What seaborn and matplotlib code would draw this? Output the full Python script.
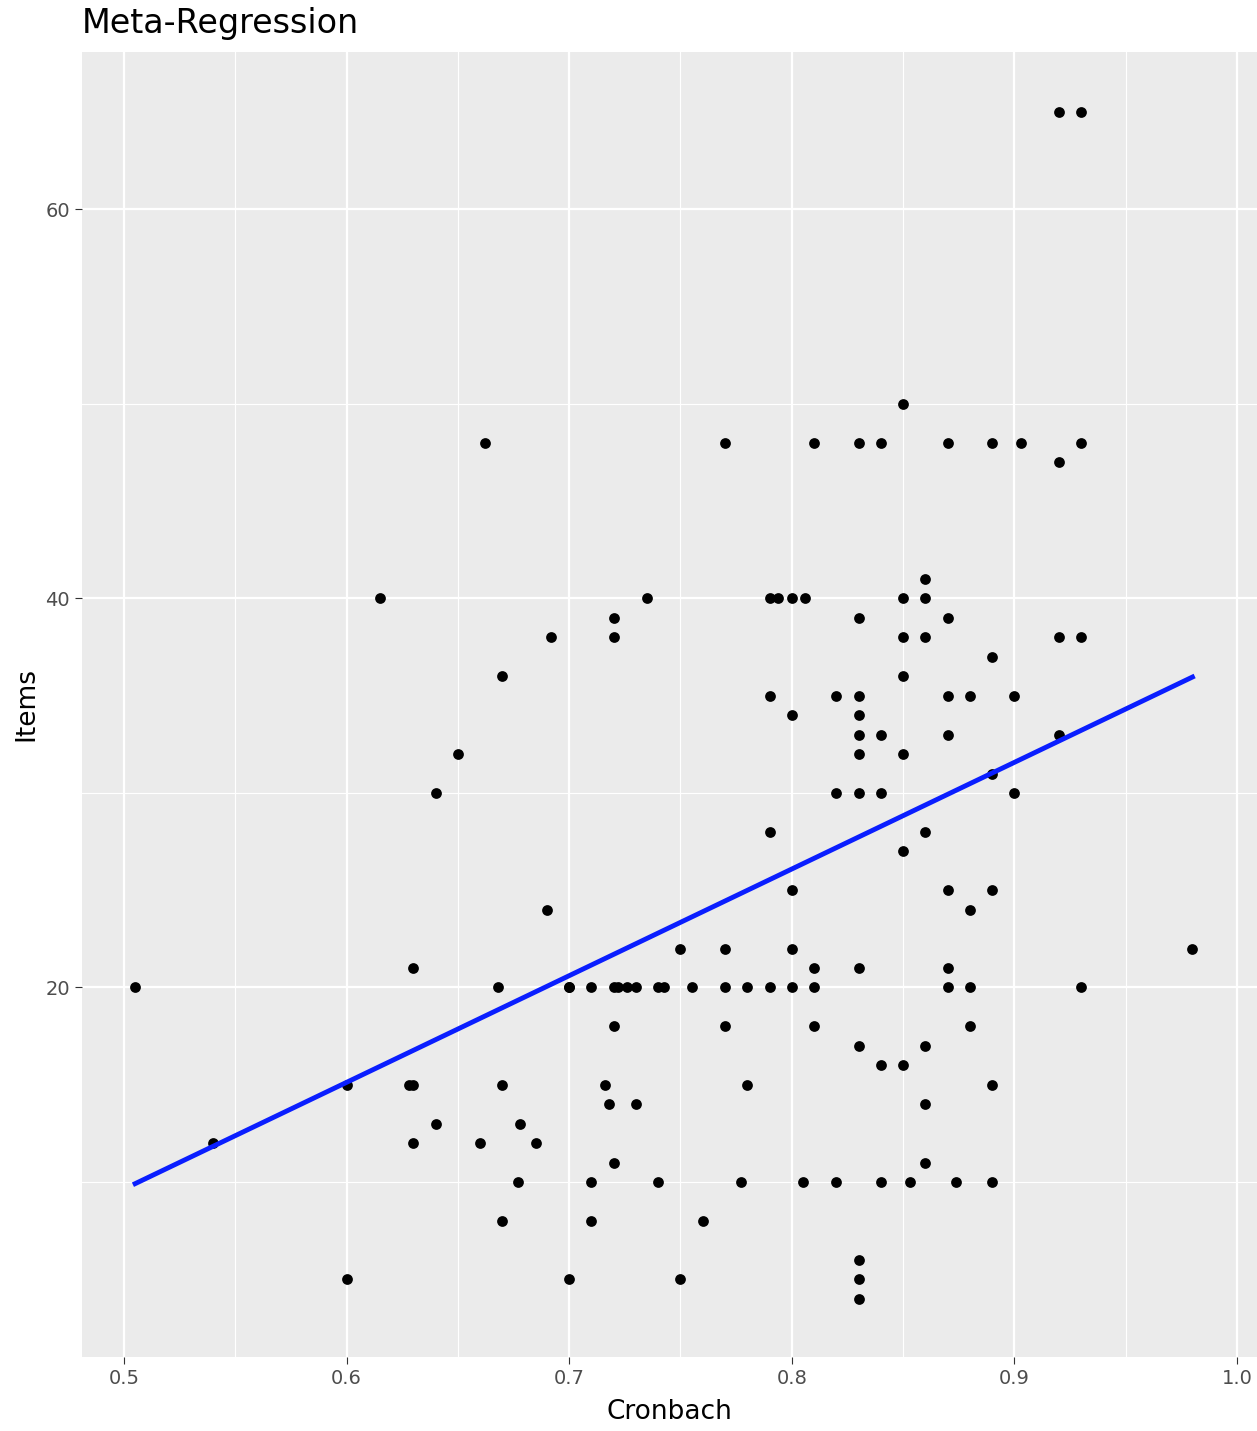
import numpy as np
import pandas as pd
import matplotlib
matplotlib.use("Agg")
import matplotlib.pyplot as plt
import seaborn as sns
from matplotlib.ticker import MultipleLocator

# Values
cronbach = [
    0.505, 0.54, 0.60, 0.60, 0.615, 0.628, 0.63, 0.63, 0.63, 0.64, 0.64, 0.65,
    0.66, 0.662, 0.668, 0.67, 0.67, 0.67, 0.677, 0.678, 0.685, 0.69, 0.692,
    0.70, 0.70, 0.70, 0.71, 0.71, 0.71, 0.716, 0.718, 0.72, 0.722, 0.72, 0.72,
    0.72, 0.72, 0.726, 0.73, 0.73, 0.735, 0.74, 0.7425, 0.74, 0.75, 0.75, 0.755,
    0.76, 0.77, 0.77, 0.77, 0.77, 0.777, 0.78, 0.78, 0.79, 0.794, 0.79, 0.79,
    0.79, 0.80, 0.806, 0.80, 0.80, 0.80, 0.80, 0.805, 0.81, 0.81, 0.81, 0.81,
    0.82, 0.82, 0.82, 0.83, 0.83, 0.83, 0.83, 0.83, 0.83, 0.83, 0.83, 0.83,
    0.83, 0.83, 0.83, 0.84, 0.84, 0.84, 0.84, 0.84, 0.85, 0.85, 0.85, 0.85,
    0.85, 0.85, 0.85, 0.853, 0.86, 0.86, 0.86, 0.86, 0.86, 0.86, 0.86, 0.87,
    0.87, 0.87, 0.87, 0.87, 0.87, 0.87, 0.874, 0.88, 0.88, 0.88, 0.88, 0.89,
    0.89, 0.89, 0.89, 0.89, 0.89, 0.90, 0.90, 0.903, 0.92, 0.92, 0.92, 0.92,
    0.93, 0.93, 0.93, 0.93, 0.98,
]
items = [
    20, 12, 15, 5, 40, 15, 15, 21, 12, 13, 30, 32,
    12, 48, 20, 36, 15, 8, 10, 13, 12, 24, 38,
    20, 20, 5, 20, 10, 8, 15, 14, 20, 20, 39, 38,
    18, 11, 20, 20, 14, 40, 20, 20, 10, 22, 5, 20,
    8, 48, 22, 20, 18, 10, 20, 15, 40, 40, 35, 28,
    20, 40, 40, 34, 25, 22, 20, 10, 48, 21, 20, 18,
    35, 30, 10, 48, 39, 35, 34, 33, 32, 30, 21, 17,
    6, 5, 4, 48, 33, 30, 16, 10, 50, 40, 38, 36,
    32, 27, 16, 10, 41, 40, 38, 28, 17, 14, 11, 48,
    39, 35, 33, 25, 21, 20, 10, 35, 24, 20, 18, 48,
    37, 31, 25, 15, 10, 35, 30, 48, 65, 47, 38, 33,
    65, 48, 38, 20, 22,
]

df = pd.DataFrame({"Cronbach": cronbach, "Items": items})

fig = plt.figure(figsize=(12.57, 14.31), dpi=100)
ax = fig.add_axes([0.065, 0.0517, 0.935, 0.912])
ax.set_facecolor("#EBEBEB")
for s in ax.spines.values():
    s.set_visible(False)

sns.regplot(data=df, x="Cronbach", y="Items", ax=ax, ci=None,
            scatter_kws=dict(color="black", s=60, linewidths=0, alpha=1, zorder=3),
            line_kws=dict(color="#0A1EFF", linewidth=3.5, zorder=4))

ax.set_xlim(0.481, 1.009)
ax.set_ylim(1.0, 68.1)
ax.xaxis.set_minor_locator(MultipleLocator(0.05))
ax.yaxis.set_major_locator(MultipleLocator(20))
ax.yaxis.set_minor_locator(MultipleLocator(10))
ax.set_xticks([0.5, 0.6, 0.7, 0.8, 0.9, 1.0])
ax.set_xticklabels(["0.5", "0.6", "0.7", "0.8", "0.9", "1.0"])
ax.grid(which="major", color="white", linewidth=1.6)
ax.grid(which="minor", color="white", linewidth=0.8)
ax.set_axisbelow(True)
ax.tick_params(which="major", length=5, color="#333333", labelsize=14, labelcolor="#4D4D4D")
ax.tick_params(which="minor", length=0)

ax.set_xlabel("Cronbach", fontsize=19, labelpad=8)
ax.set_ylabel("Items", fontsize=19)
ax.set_title("Meta-Regression", fontsize=24, loc="left", pad=14)

fig.savefig("out.png", dpi=100)
